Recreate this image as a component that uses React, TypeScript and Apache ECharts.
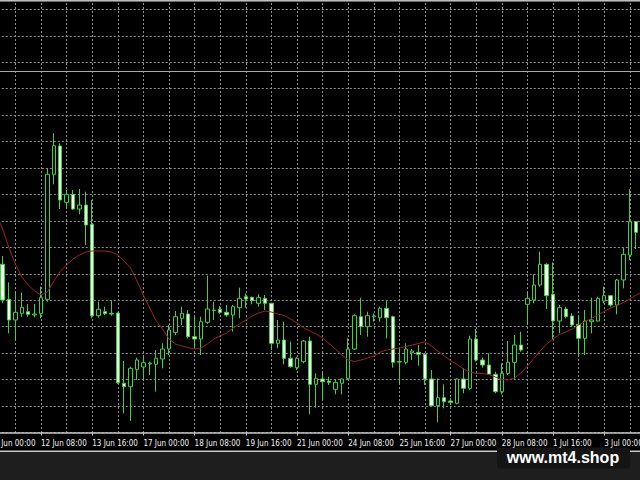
import React, { useEffect, useRef } from "react";
import * as echarts from "echarts";

// ---- Time axis (H4 bars, weekends skipped) ----
const days = ["11 Jun", "12 Jun", "13 Jun", "14 Jun", "17 Jun", "18 Jun", "19 Jun", "20 Jun", "21 Jun", "24 Jun", "25 Jun", "26 Jun", "27 Jun", "28 Jun", "1 Jul", "2 Jul", "3 Jul", "4 Jul"];
const hours = ["00:00", "04:00", "08:00", "12:00", "16:00", "20:00"];
const FIRST_BAR = 2; // first visible candle is 11 Jun 08:00
const BAR_COUNT = 103; // 11 Jun 00:00 .. 4 Jul 00:00

// ---- Candles (11 Jun 08:00 .. 3 Jul 20:00), price in points ----
const open = [
  168.2, 133.2, 112.5, 119.2, 120.8, 117.5, 118.8, 133.2, 258.2, 286.5,
  230.2, 238.2, 223.5, 227.5, 208.2, 116.8, 120.8, 119.2, 119.5, 49.2,
  45.8, 63.2, 65.5, 68.5, 68.2, 73.5, 83.5, 100.2, 114.2, 118.5,
  95.8, 93.5, 110.2, 122, 123.2, 120.2, 117.5, 124.8, 135.8, 135.2,
  129.2, 134.2, 129.2, 89.2, 92.5, 74.2, 64.8, 70.8, 91.5, 48.2,
  53.5, 51.5, 43.2, 49.2, 54.2, 83.5, 115.8, 105.8, 115.8, 114.8,
  124.2, 115.8, 70.8, 70.2, 79.8, 80.2, 78.2, 53.5, 26.8, 34.8,
  31.5, 29.2, 53.5, 44.2, 93.5, 72.5, 67.5, 58.2, 40.8, 59.2,
  70.2, 87.5, 128.2, 132.5, 147.5, 168.2, 138.2, 111.5, 123.5, 116.5,
  108.2, 94.2, 110.8, 111.5, 131.5, 136.8, 127.5, 152.5, 177.5, 210.8,
];
const close = [
  132.5, 112.5, 120.2, 125.2, 118.2, 118.5, 134.8, 258.2, 286.8, 232.5,
  238.2, 223.5, 227.5, 207.5, 116.8, 123.2, 118.8, 118.5, 49.8, 45.8,
  64.2, 72.5, 69.8, 69.5, 74.2, 83.5, 102.5, 115.8, 119.2, 95.8,
  93.5, 110.8, 123.5, 122.5, 120.2, 117.5, 125.8, 134.2, 133.5, 131.8,
  134.8, 129.2, 89.2, 92.5, 74.2, 65.8, 74.2, 91.5, 48.2, 54.2,
  50.8, 50.2, 50.2, 53.5, 83.5, 116.8, 105.8, 116.8, 116.5, 124.2,
  114.8, 70.2, 70.5, 83.5, 81.5, 78.2, 53.5, 26.8, 34.8, 30.8,
  30.2, 53.5, 44.2, 93.5, 72.5, 67.5, 58.2, 40.8, 59.2, 70.2,
  87.5, 82.5, 134.2, 147.5, 168.2, 136.8, 111.5, 124.8, 115.8, 107.5,
  94.2, 111.5, 112.5, 134.2, 136.8, 127.5, 152.5, 178.2, 210.8, 200.2,
];
const low = [
  129.2, 99.2, 91.5, 115.8, 115.8, 115.2, 114.2, 130.8, 248.2, 223.5,
  224.8, 222.5, 218.2, 187.5, 114.2, 114.8, 117.5, 116.8, 48.5, 19.2,
  11.5, 52.5, 53.5, 57.5, 40.8, 64.2, 77.5, 97.5, 107.5, 94.2,
  84.8, 77.5, 108.5, 112.5, 118.5, 115.8, 100.8, 114.2, 124.8, 128.2,
  125.8, 122.5, 82.5, 84.2, 68.2, 64.8, 62.5, 69.2, 18.2, 24.8,
  32.5, 47.5, 38.2, 38.2, 52.5, 82.5, 97.5, 95.8, 110.8, 110.8,
  94.2, 64.8, 49.2, 68.2, 72.5, 66.8, 47.5, 25.8, 10.2, 24.2,
  27.5, 28.2, 39.2, 42.5, 70.8, 64.8, 57.5, 39.2, 38.2, 57.5,
  52.5, 80.8, 107.5, 129.2, 145.8, 123.5, 93.5, 99.2, 114.2, 105.8,
  77.5, 77.5, 99.2, 110.8, 129.2, 125.8, 118.2, 144.2, 172.5, 183.5,
];
const high = [
  176.5, 150.2, 140.8, 139.8, 128.5, 128.5, 145.8, 264.5, 299.2, 289.2,
  242.5, 242.5, 243.5, 240.8, 232.5, 130.8, 125.8, 131.8, 119.8, 71.5,
  65.8, 74.8, 77.5, 70.8, 82.5, 89.2, 107.5, 121.5, 125.8, 122.5,
  116.8, 115.8, 156.8, 130.8, 126.5, 127.5, 127.5, 144.8, 139.2, 135.8,
  138.2, 137.5, 129.5, 112.5, 110.8, 90.8, 75.8, 92.5, 95.8, 59.2,
  60.8, 55.8, 53.5, 54.2, 94.2, 118.2, 134.8, 120.8, 119.2, 125.8,
  132.5, 116.8, 83.5, 89.2, 83.5, 87.5, 79.5, 62.5, 54.2, 48.2,
  34.2, 54.2, 64.2, 96.8, 103.5, 74.8, 79.2, 60.8, 69.2, 91.5,
  97.5, 100.8, 140.8, 158.2, 180.8, 169.2, 170.2, 127.5, 125.8, 119.2,
  116.8, 122.5, 134.8, 135.8, 145.8, 137.5, 153.5, 184.8, 243.5, 211.5,
];
// Moving average (11 Jun 04:00 .. 4 Jul 00:00; the two ends are just off screen)
const movingAverage = [
  218.5,
  203.5, 184.5, 168.5, 155.5, 147.5, 141.5, 137.5, 140.5, 151.5, 161,
  167.5, 173.5, 177.5, 180.5, 181.5, 181.5, 181.5, 180.5, 177.5, 171.5,
  164.5, 151.5, 137.5, 124.5, 111.5, 103.5, 93.5, 88.5, 86.5, 85,
  83.5, 84.5, 88.5, 93.5, 96.5, 99.5, 104.5, 108.5, 112.5, 116.5,
  119.5, 121.5, 120.5, 118.5, 117, 113.5, 109.5, 105, 101.5, 98.5,
  94.5, 89, 83.5, 77.5, 72.5, 71, 72.5, 74.5, 76.5, 80.5,
  82.5, 83.5, 84.5, 86, 87.5, 89, 90.8, 86.5, 81.5, 76.5,
  72, 68, 63.5, 60.5, 59.2, 59, 58, 55.5, 53.2, 52.5,
  54.5, 59.5, 66.5, 74, 81.5, 88.5, 93.5, 98, 100.5, 103.5,
  107.5, 110.8, 114, 117.5, 121, 124.5, 127, 130, 133.5, 137.5,
  141,
];
const horizontalLevel = 361.5;
const priceMin = 0;
const priceMax = 429.5;
const gridStep = 26.45;
const watermark = "www.mt4.shop";

const categories = days.flatMap((d) => hours.map((h) => `${d} ${h}`)).slice(0, BAR_COUNT);

const candleData = categories.map((_, j) => {
  const i = j - FIRST_BAR;
  if (i < 0 || i >= open.length) return ["-", "-", "-", "-"];
  return [open[i], close[i], low[i], high[i]];
});
const maData = categories.map((_, j) => {
  const k = j - 1;
  return k >= 0 && k < movingAverage.length ? movingAverage[k] : "-";
});

const GREEN = "#3ed23e";
const GRID = "#8e8e8e";

export default function App() {
  const ref = useRef<HTMLDivElement>(null);
  useEffect(() => {
    const chart = echarts.init(ref.current!, null, { renderer: "svg" });
    chart.setOption({
      animation: false,
      backgroundColor: "#000000",
      grid: {
        left: -10.2,
        right: -2.6,
        top: 3,
        bottom: 47.5,
        containLabel: false,
        outerBoundsMode: "none",
      },
      xAxis: {
        type: "category",
        data: categories,
        boundaryGap: false,
        offset: 2.5,
        axisLine: { show: true, lineStyle: { color: "#c4c4c4", width: 1.5 } },
        axisTick: {
          show: true,
          interval: (i: number) => i % 8 === 0,
          length: 3,
          lineStyle: { color: "#c4c4c4" },
        },
        axisLabel: {
          interval: (i: number) => i % 8 === 0,
          align: "left",
          margin: 4,
          color: "#f2f2f2",
          fontSize: 8,
          hideOverlap: false,
          fontFamily: "'Liberation Sans Narrow', 'DejaVu Sans Condensed', 'Liberation Sans', sans-serif",
        },
        splitLine: {
          show: true,
          interval: (i: number) => i % 4 === 0,
          lineStyle: { color: GRID, width: 1, type: [2, 2] },
        },
      },
      yAxis: {
        type: "value",
        min: priceMin,
        max: priceMax,
        interval: gridStep,
        axisLine: { show: false },
        axisTick: { show: false },
        axisLabel: { show: false },
        splitLine: {
          show: true,
          showMaxLine: false,
          lineStyle: { color: GRID, width: 1, type: [2, 2] },
        },
      },
      series: [
        {
          type: "candlestick",
          data: candleData,
          barWidth: 4,
          clip: false,
          itemStyle: {
            color: "#000000",
            color0: "#f2fff2",
            borderColor: GREEN,
            borderColor0: GREEN,
            borderColorDoji: GREEN,
            borderWidth: 1,
          },
          markLine: {
            silent: true,
            symbol: "none",
            label: { show: false },
            lineStyle: { color: "#a8a8a8", width: 1, type: "solid" },
            data: [{ yAxis: horizontalLevel }],
          },
        },
        {
          type: "line",
          data: maData,
          showSymbol: false,
          symbol: "none",
          smooth: false,
          lineStyle: { color: "#9e2222", width: 1 },
          z: 3,
        },
      ],
      graphic: [
        { type: "rect", shape: { x: 0, y: 0, width: 640, height: 1 }, style: { fill: "#bdbdbd" } },
        { type: "rect", shape: { x: 0, y: 1, width: 640, height: 1 }, style: { fill: "#6a6a6a" } },
        { type: "rect", shape: { x: 0, y: 451, width: 640, height: 29 }, style: { fill: "#1e1e1e" } },
        { type: "rect", shape: { x: 0, y: 450.5, width: 640, height: 1.5 }, style: { fill: "#c8c8c8" } },
        {
          type: "rect",
          shape: { x: 497, y: 447.5, width: 133, height: 21, r: 3 },
          style: { fill: "#141414" },
        },
        {
          type: "text",
          x: 563,
          y: 457.5,
          style: {
            text: watermark,
            fill: "#ffffff",
            font: "bold 16px 'Liberation Sans', Arial, sans-serif",
            align: "center",
            verticalAlign: "middle",
          },
        },
      ],
    });
    return () => chart.dispose();
  }, []);
  return (
    <div
      ref={ref}
      style={{ position: "fixed", left: 0, top: 0, width: 640, height: 480 }}
    />
  );
}
